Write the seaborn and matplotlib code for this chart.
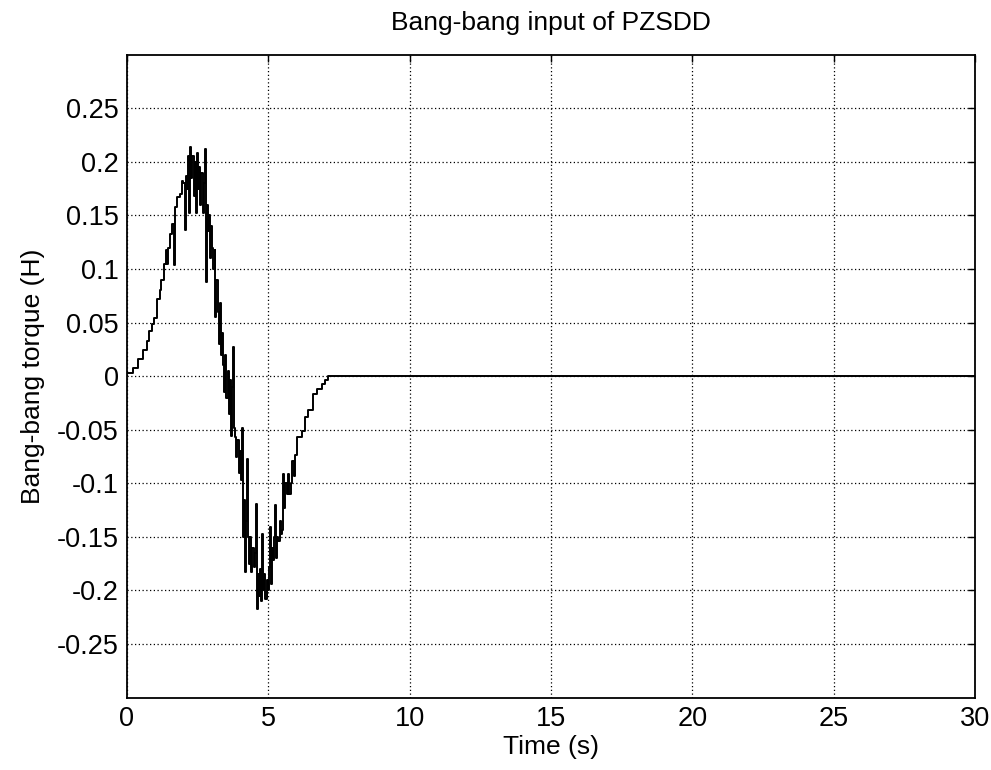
import numpy as np
import pandas as pd
import seaborn as sns
import matplotlib.pyplot as plt

# time (s) and bang-bang torque (step signal)
t_s = [0.00, 0.22, 0.40, 0.58, 0.70, 0.78, 0.88, 0.97, 1.05, 1.17,
       1.22, 1.32, 1.38, 1.41, 1.46, 1.52, 1.58, 1.64, 1.68, 1.70,
       1.78, 1.88, 1.94, 2.00, 2.04, 2.08, 2.12, 2.16, 2.20, 2.24,
       2.28, 2.32, 2.36, 2.40, 2.44, 2.48, 2.52, 2.56, 2.60, 2.64,
       2.68, 2.72, 2.77, 2.80, 2.83, 2.87, 2.91, 2.94, 2.98, 3.02,
       3.06, 3.10, 3.13, 3.17, 3.21, 3.25, 3.29, 3.33, 3.37, 3.41,
       3.45, 3.48, 3.52, 3.56, 3.60, 3.64, 3.68, 3.72, 3.76, 3.79,
       3.83, 3.87, 3.91, 3.95, 3.99, 4.03, 4.07, 4.10, 4.14, 4.18,
       4.22, 4.25, 4.28, 4.32, 4.36, 4.40, 4.44, 4.48, 4.52, 4.57,
       4.60, 4.64, 4.68, 4.72, 4.76, 4.78, 4.82, 4.86, 4.90, 4.94,
       4.98, 5.02, 5.07, 5.10, 5.14, 5.18, 5.22, 5.25, 5.28, 5.32,
       5.36, 5.40, 5.45, 5.50, 5.53, 5.57, 5.61, 5.66, 5.70, 5.75,
       5.80, 5.85, 5.90, 5.96, 6.03, 6.20, 6.31, 6.42, 6.60, 6.74,
       6.91, 7.02, 7.10, 30.00]
torque = [0.003, 0.008, 0.016, 0.024, 0.033, 0.042, 0.049, 0.054, 0.072, 0.080,
          0.090, 0.105, 0.118, 0.105, 0.120, 0.133, 0.142, 0.142, 0.104, 0.158,
          0.167, 0.170, 0.182, 0.180, 0.136, 0.187, 0.175, 0.205, 0.152, 0.214,
          0.185, 0.205, 0.168, 0.200, 0.152, 0.208, 0.175, 0.195, 0.160, 0.190,
          0.152, 0.180, 0.212, 0.088, 0.160, 0.135, 0.150, 0.110, 0.140, 0.120,
          0.100, 0.118, 0.055, 0.090, 0.060, 0.030, 0.068, 0.020, 0.040, 0.010,
          -0.015, 0.020, -0.020, 0.005, -0.035, -0.004, -0.056, -0.010, 0.027, -0.048,
          -0.057, -0.075, -0.060, -0.090, -0.070, -0.097, -0.048, -0.150, -0.116, -0.183,
          -0.135, -0.077, -0.150, -0.175, -0.150, -0.183, -0.160, -0.178, -0.165, -0.119,
          -0.217, -0.185, -0.205, -0.180, -0.210, -0.147, -0.200, -0.185, -0.208, -0.190,
          -0.200, -0.178, -0.141, -0.194, -0.160, -0.172, -0.150, -0.120, -0.170, -0.150,
          -0.154, -0.135, -0.147, -0.144, -0.091, -0.123, -0.100, -0.110, -0.091, -0.110,
          -0.100, -0.079, -0.093, -0.074, -0.057, -0.051, -0.038, -0.032, -0.017, -0.012,
          -0.007, -0.004, 0.000, 0.000]

x_ticks = [0, 5, 10, 15, 20, 25, 30]
y_ticks = [-0.25, -0.2, -0.15, -0.1, -0.05, 0, 0.05, 0.1, 0.15, 0.2, 0.25]
y_labels = ['-0.25', '-0.2', '-0.15', '-0.1', '-0.05', '0',
            '0.05', '0.1', '0.15', '0.2', '0.25']

df = pd.DataFrame({'t': t_s, 'u': torque})

sns.set_style('white')
plt.rcParams['font.family'] = ['Liberation Sans', 'DejaVu Sans']
plt.rcParams['axes.unicode_minus'] = False
plt.rcParams['text.color'] = 'k'
plt.rcParams['axes.labelcolor'] = 'k'

fig = plt.figure(figsize=(9.91, 7.70), dpi=100)
ax = fig.add_axes([0.128, 0.094, 0.856, 0.835])

sns.lineplot(data=df, x='t', y='u', ax=ax, color='k', linewidth=1.4,
             drawstyle='steps-post', estimator=None, sort=False)

ax.set_xlim(0, 30)
ax.set_ylim(-0.3, 0.3)
ax.set_xticks(x_ticks)
ax.set_xticklabels([str(v) for v in x_ticks])
ax.set_yticks(y_ticks)
ax.set_yticklabels(y_labels)
ax.grid(True, color='k', linestyle=(0, (1, 2)), linewidth=0.9)
ax.tick_params(direction='in', length=5, width=1, labelsize=19.5,
               top=True, right=True, colors='k', pad=6)
for s in ax.spines.values():
    s.set_color('k')
    s.set_linewidth(1.3)

ax.set_xlabel('Time (s)', fontsize=19, labelpad=2)
ax.set_ylabel('Bang-bang torque (H)', fontsize=19, labelpad=8)
ax.set_title('Bang-bang input of PZSDD', fontsize=19, pad=18)

plt.savefig('out.png', dpi=100)
